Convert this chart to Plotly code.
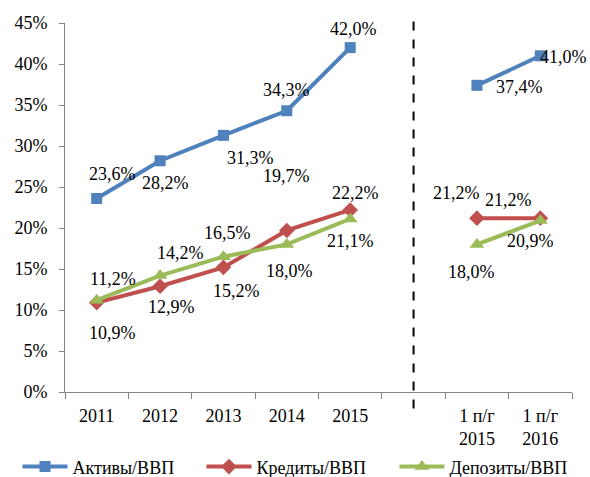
import plotly.graph_objects as go

categories = ["2011", "2012", "2013", "2014", "2015", " ", "1 п/г<br>2015", "1 п/г<br>2016"]
assets = [23.6, 28.2, 31.3, 34.3, 42.0, None, 37.4, 41.0]
credits = [10.9, 12.9, 15.2, 19.7, 22.2, None, 21.2, 21.2]
deposits = [11.2, 14.2, 16.5, 18.0, 21.1, None, 18.0, 20.9]

series_names = ["Активы/ВВП", "Кредиты/ВВП", "Депозиты/ВВП"]
colors = ["#4F81BD", "#C0504D", "#9BBB59"]
symbols = ["square", "diamond", "triangle-up"]
marker_sizes = [11, 12, 13]

# label offsets (pixels): (dx, dy) with dy positive downward
offsets = [
    [(16, -24), (5, 22), (27, 23), (0, -21), (3, -19), None, (43, 2), (23, 1)],
    [(16, 30), (11, 21), (13, 24), (0, -54), (5, -17), None, (-20, -25), (-32, -18)],
    [(16, -21), (20, -23), (4, -24), (3, 27), (0, 22), None, (-5, 28), (-10, 20)],
]
legend_ids = ["legend", "legend2", "legend3"]
legend_x = [0.0297, 0.3415, 0.6686]

FONT = "Liberation Serif"
FS = 18
fig = go.Figure()
annotations = []
for name, vals, col, sym, ms, offs, lid in zip(series_names, [assets, credits, deposits], colors,
                                              symbols, marker_sizes, offsets, legend_ids):
    fig.add_trace(go.Scatter(
        x=categories, y=vals, name=name, mode="lines+markers",
        line=dict(color=col, width=4),
        marker=dict(symbol=sym, size=ms, color=col),
        connectgaps=False, legend=lid,
    ))
    for i, (v, o) in enumerate(zip(vals, offs)):
        if v is None:
            continue
        annotations.append(dict(
            x=i, y=v, xref="x", yref="y", text=f"{v:.1f}%".replace(".", ","),
            showarrow=False, xshift=o[0], yshift=-o[1],
            font=dict(family=FONT, size=FS, color="#000000"),
        ))

fig.add_shape(type="line", xref="x", yref="paper", x0=5, x1=5, y0=-0.045, y1=1.012,
              line=dict(color="black", width=2, dash="dash"))

legend_common = dict(orientation="h", xref="container", xanchor="left",
                     y=-0.203, yanchor="middle", font=dict(family=FONT, size=FS),
                     itemwidth=45, bgcolor="rgba(0,0,0,0)")

fig.update_layout(
    width=590, height=477,
    margin=dict(l=65, r=18, t=23, b=85, autoexpand=False),
    paper_bgcolor="white", plot_bgcolor="white",
    font=dict(family=FONT, size=FS, color="#000000"),
    annotations=annotations,
    showlegend=True,
    legend=dict(x=legend_x[0], **legend_common),
    legend2=dict(x=legend_x[1], **legend_common),
    legend3=dict(x=legend_x[2], **legend_common),
)
fig.update_xaxes(
    type="category", range=[-0.5, 7.5], showgrid=False,
    showline=True, linecolor="#868686", linewidth=1,
    ticks="outside", ticklen=6, tickcolor="#868686", tickson="boundaries",
    tickfont=dict(family=FONT, size=FS), tickangle=0, ticklabelstandoff=7,
)
fig.update_yaxes(
    range=[0, 45], dtick=5, ticksuffix="%", showgrid=False, zeroline=False,
    showline=True, linecolor="#868686", linewidth=1,
    ticks="outside", ticklen=5, tickcolor="#868686",
    tickfont=dict(family=FONT, size=FS), ticklabelstandoff=8,
)

fig.write_html("out.html", config={"displayModeBar": False},
               post_script="document.body.style.margin='0px';")
